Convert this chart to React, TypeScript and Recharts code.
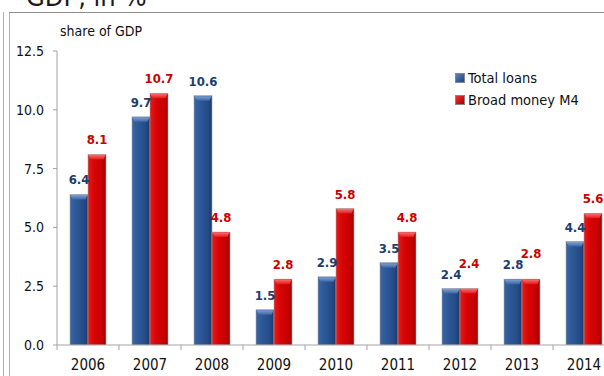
import React from "react";
import { Bar, BarChart, LabelList, XAxis, YAxis } from "recharts";

const years = ["2006", "2007", "2008", "2009", "2010", "2011", "2012", "2013", "2014"];
const totalLoans = [6.4, 9.7, 10.6, 1.5, 2.9, 3.5, 2.4, 2.8, 4.4];
const broadMoney = [8.1, 10.7, 4.8, 2.8, 5.8, 4.8, 2.4, 2.8, 5.6];
const yTicks = [0, 2.5, 5, 7.5, 10, 12.5];

const FONT = "'DejaVu Sans Condensed', 'DejaVu Sans', sans-serif";
const BLUE_TEXT = "#1c3d70";
const RED_TEXT = "#cc0000";
const AXIS = "#a3a3a3";
const BAND = 62;

const data = years.map((year, i) => ({
  year,
  loans: totalLoans[i],
  money: broadMoney[i],
}));

type Tone = "blue" | "red";

function GlossyBar(props: any & { tone: Tone }) {
  const { x, y, width, height, tone } = props;
  if (!height || height <= 0) return null;
  const cap = Math.min(5, height);
  return (
    <g>
      <rect
        x={x}
        y={y}
        width={width}
        height={height}
        fill={`url(#${tone}Body)`}
        stroke="#a8a8a8"
        strokeWidth={0.6}
      />
      <path
        d={`M${x + 0.5},${y + 0.5} L${x + width - 0.5},${y + 0.5} L${x + width - 2.5},${y + cap} L${x + 2.5},${y + cap} Z`}
        fill={`url(#${tone}Cap)`}
      />
    </g>
  );
}

function ValueLabel(props: any & { tone: Tone }) {
  const { x, y, width, value, index, tone } = props;
  // equal pairs: push the red figure up so both stay readable
  const same = totalLoans[index] === broadMoney[index];
  const lift = tone === "red" && same ? 11 : 0;
  return (
    <text
      x={x + width / 2}
      y={y - 10 - lift}
      textAnchor="middle"
      fontFamily={FONT}
      fontSize={13}
      fontWeight="bold"
      fill={tone === "blue" ? BLUE_TEXT : RED_TEXT}
    >
      {Number(value).toFixed(1)}
    </text>
  );
}

function YearTick(props: any) {
  const { x, y, payload } = props;
  return (
    <g>
      <line x1={x - BAND / 2} y1={y - 8} x2={x - BAND / 2} y2={y - 3} stroke={AXIS} />
      <text x={x} y={y + 17} textAnchor="middle" fontFamily={FONT} fontSize={15} fill="#111">
        {payload.value}
      </text>
    </g>
  );
}

function LegendBox() {
  const row = (label: string, bg: string) => (
    <div style={{ display: "flex", alignItems: "center", height: 22 }}>
      <span
        style={{
          display: "inline-block",
          width: 8,
          height: 8,
          marginRight: 3,
          background: bg,
          border: "0.5px solid #888",
        }}
      />
      <span>{label}</span>
    </div>
  );
  return (
    <div style={{ fontFamily: FONT, fontSize: 14.5, color: "#111" }}>
      {row("Total loans", "linear-gradient(135deg, #5a82be, #1f447c)")}
      {row("Broad money M4", "linear-gradient(135deg, #f03030, #a80000)")}
    </div>
  );
}

export default function App() {
  return (
    <div
      style={{
        position: "fixed",
        left: 0,
        top: 0,
        width: 604,
        height: 376,
        overflow: "hidden",
        background: "#fff",
      }}
    >
      <div
        style={{
          position: "absolute",
          left: 26,
          top: -17,
          fontFamily: FONT,
          fontSize: 27,
          lineHeight: "27px",
          color: "#1a1a1a",
          whiteSpace: "nowrap",
        }}
      >
        GDP, in %
      </div>
      <div style={{ position: "absolute", left: 3, top: 12, width: 1, height: 370, background: "#b0b0b0" }} />
      <div style={{ position: "absolute", left: 9, top: 12, width: 1, height: 370, background: "#b0b0b0" }} />
      <div style={{ position: "absolute", left: 9, top: 12, width: 600, height: 1, background: "#8e8e8e" }} />
      <div
        style={{
          position: "absolute",
          left: 60,
          top: 23,
          fontFamily: FONT,
          fontSize: 14,
          color: "#111",
          whiteSpace: "nowrap",
        }}
      >
        share of GDP
      </div>
      <div style={{ position: "absolute", left: 455, top: 67, zIndex: 2 }}>
        <LegendBox />
      </div>
      <div style={{ position: "absolute", left: 0, top: 0 }}>
        <BarChart
          width={625}
          height={376}
          data={data}
          margin={{ top: 51, right: 10, bottom: 0, left: 0 }}
          barCategoryGap={13}
          barGap={0}
        >
          <defs>
            <linearGradient id="blueBody" x1="0" y1="0" x2="1" y2="0">
              <stop offset="0%" stopColor="#3a64a2" />
              <stop offset="35%" stopColor="#2d5898" />
              <stop offset="80%" stopColor="#234a84" />
              <stop offset="100%" stopColor="#183868" />
            </linearGradient>
            <linearGradient id="blueCap" x1="0" y1="0" x2="0" y2="1">
              <stop offset="0%" stopColor="#7fa0d0" />
              <stop offset="100%" stopColor="#3c66a4" />
            </linearGradient>
            <linearGradient id="redBody" x1="0" y1="0" x2="1" y2="0">
              <stop offset="0%" stopColor="#e41a1a" />
              <stop offset="35%" stopColor="#d80404" />
              <stop offset="80%" stopColor="#c40000" />
              <stop offset="100%" stopColor="#980000" />
            </linearGradient>
            <linearGradient id="redCap" x1="0" y1="0" x2="0" y2="1">
              <stop offset="0%" stopColor="#ff6a6a" />
              <stop offset="100%" stopColor="#e01a1a" />
            </linearGradient>
          </defs>
          <XAxis
            dataKey="year"
            axisLine={{ stroke: AXIS }}
            tickLine={false}
            tick={<YearTick />}
            height={31}
            interval={0}
          />
          <YAxis
            domain={[0, 12.5]}
            ticks={yTicks}
            tickFormatter={(v: number) => v.toFixed(1)}
            axisLine={{ stroke: AXIS }}
            tickLine={{ stroke: AXIS }}
            tickSize={4}
            tickMargin={9}
            width={57}
            tick={{ fontFamily: FONT, fontSize: 14, fill: "#111" }}
            allowDataOverflow
          />
          <Bar
            dataKey="loans"
            name="Total loans"
            fill="#2d5898"
            shape={(p: any) => <GlossyBar {...p} tone="blue" />}
            isAnimationActive={false}
          >
            <LabelList dataKey="loans" content={(p: any) => <ValueLabel {...p} tone="blue" />} />
          </Bar>
          <Bar
            dataKey="money"
            name="Broad money M4"
            fill="#d80404"
            shape={(p: any) => <GlossyBar {...p} tone="red" />}
            isAnimationActive={false}
          >
            <LabelList dataKey="money" content={(p: any) => <ValueLabel {...p} tone="red" />} />
          </Bar>
        </BarChart>
      </div>
    </div>
  );
}
